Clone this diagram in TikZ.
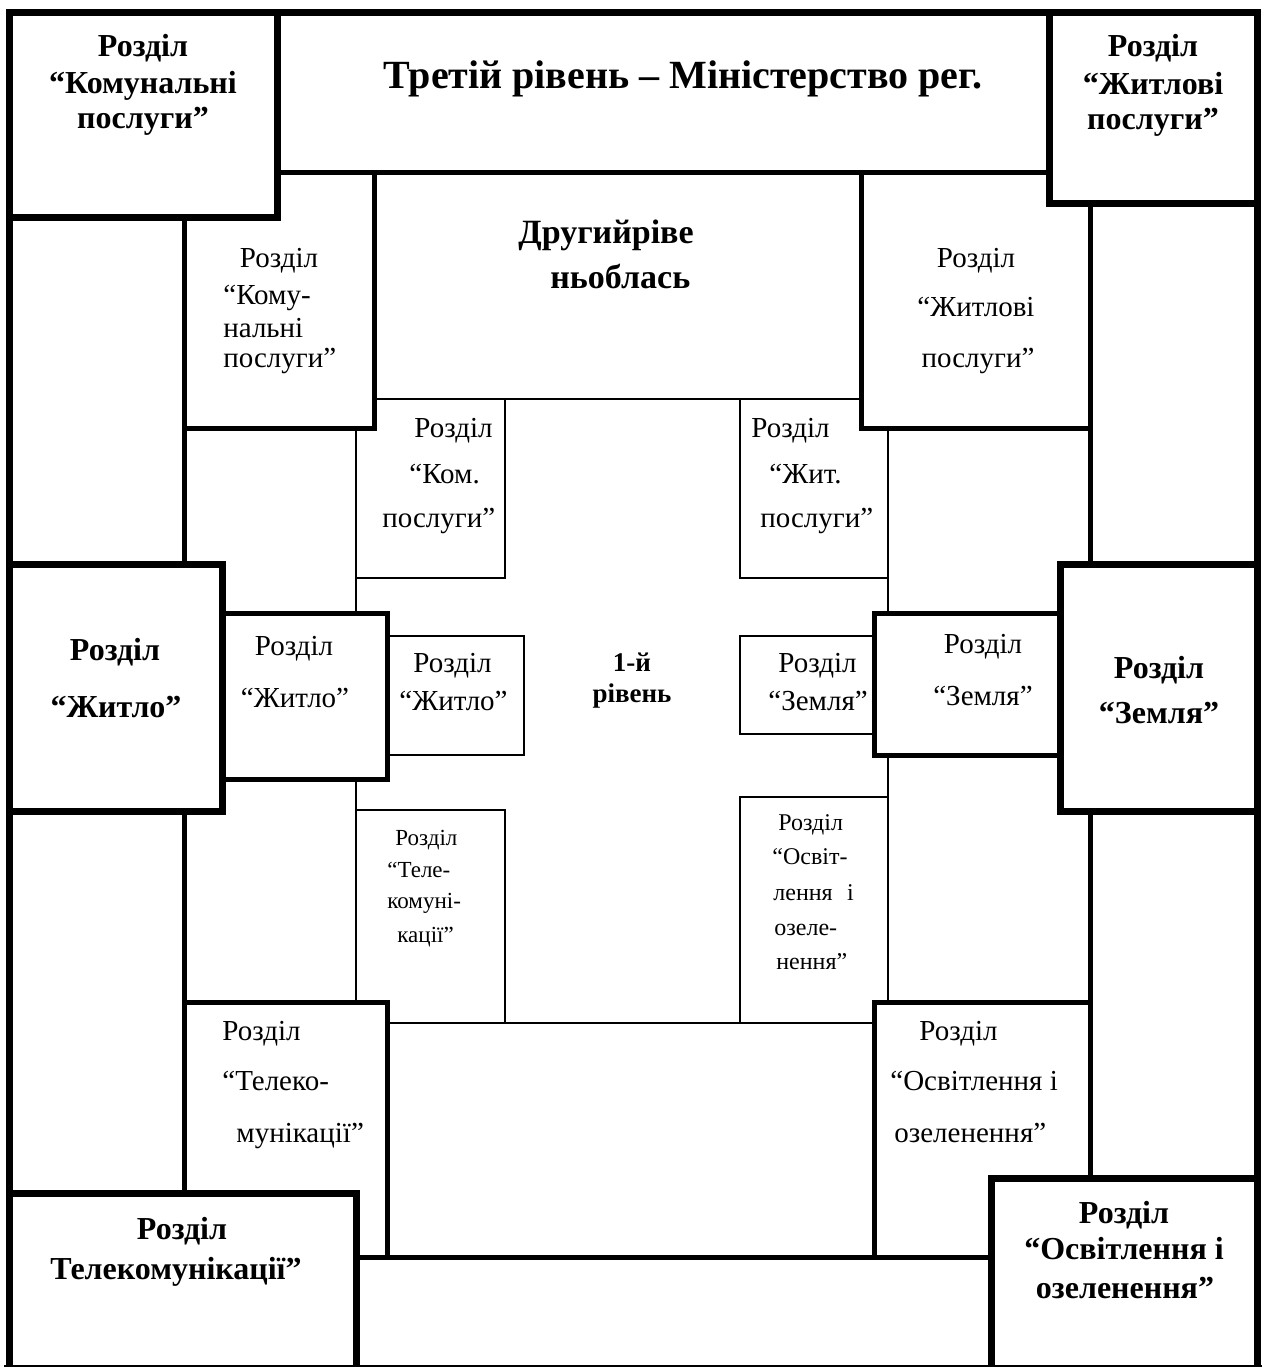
\documentclass[tikz,border=0pt]{standalone}
\usepackage{fontspec}
\setmainfont{Liberation Serif}
\tikzset{
  lthree/.style={line width=3.5pt, draw=black},
  ltwo/.style={line width=2.5pt, draw=black},
  lone/.style={line width=0.75pt, draw=black},
  ctr/.style={inner sep=0pt, anchor=base},
  lft/.style={inner sep=0pt, anchor=base west},
  fB/.style={font=\fontsize{16}{18}\selectfont\bfseries},
  fN/.style={font=\fontsize{14.5}{17}\selectfont},
  fS/.style={font=\fontsize{11.5}{13}\selectfont},
  fSS/.style={font=\fontsize{12}{14}\selectfont},
  fT/.style={font=\fontsize{20}{24}\selectfont\bfseries},
  fD/.style={font=\fontsize{17}{20}\selectfont\bfseries},
  fC/.style={font=\fontsize{13.5}{16}\selectfont\bfseries},
}
\begin{document}
\begin{tikzpicture}[x=0.5pt,y=-0.5pt]
\useasboundingbox (0,0) rectangle (1265,1367);
% ---------- level 1 (thin) ----------
\draw[lone] (356,399) rectangle (888,1023);
\draw[lone] (356,399) rectangle (505,578);
\draw[lone] (740,399) rectangle (888,578);
\draw[lone] (387,636) rectangle (524,755);
\draw[lone] (740,636) rectangle (874,734);
\draw[lone] (356,810) rectangle (505,1023);
\draw[lone] (740,797) rectangle (888,1023);
% ---------- level 2 (medium) ----------
\draw[ltwo] (184,172) rectangle (1090,1257);
\filldraw[ltwo, fill=white] (184,172) rectangle (374,428);
\filldraw[ltwo, fill=white] (861,172) rectangle (1090,428);
\filldraw[ltwo, fill=white] (222,613) rectangle (387,779);
\filldraw[ltwo, fill=white] (874,613) rectangle (1060,755);
\filldraw[ltwo, fill=white] (184,1002) rectangle (387,1257);
\filldraw[ltwo, fill=white] (874,1002) rectangle (1090,1257);
% ---------- level 3 (thick) ----------
\filldraw[ltwo, fill=white] (277,12) rectangle (1049,172);
\filldraw[lthree, fill=white] (9,12) rectangle (277,217);
\filldraw[lthree, fill=white] (1049,12) rectangle (1257,203);
\filldraw[lthree, fill=white] (9,564) rectangle (222,811);
\filldraw[lthree, fill=white] (1060,564) rectangle (1257,811);
\fill[white] (9,1193) rectangle (356,1366);
\draw[lthree] (9,1366) -- (9,1193) -- (356,1193) -- (356,1366);
\fill[white] (991,1178) rectangle (1257,1366);
\draw[lthree] (991,1366) -- (991,1178) -- (1257,1178) -- (1257,1366);
\draw[lthree] (9,1366) -- (9,12) -- (1257,12) -- (1257,1366);
\draw[line width=0.6pt] (4,1366) -- (1262,1366);
% ---------- texts, level 3 ----------
\node[ctr,fT] (title) at (683,88) {Третій рівень – Міністерство рег.};
\node[ctr,fB] (tlA) at (143,56) {Розділ};
\node[ctr,fB] (tlB) at (143,93) {“Комунальні};
\node[ctr,fB] (tlC) at (143,128) {послуги”};
\node[ctr,fB] (trA) at (1153,56) {Розділ};
\node[ctr,fB] (trB) at (1153,94) {“Житлові};
\node[ctr,fB] (trC) at (1153,129) {послуги”};
\node[ctr,fB] (lA) at (115,660) {Розділ};
\node[ctr,fB] (lB) at (116,717) {“Житло”};
\node[ctr,fB] (rA) at (1159,678) {Розділ};
\node[ctr,fB] (rB) at (1159,723) {“Земля”};
\node[ctr,fB] (blA) at (182,1239) {Розділ};
\node[ctr,fB] (blB) at (176,1279) {Телекомунікації”};
\node[ctr,fB] (brA) at (1124,1223) {Розділ};
\node[ctr,fB] (brB) at (1124,1259) {“Освітлення і};
\node[ctr,fB] (brC) at (1125,1298) {озеленення”};
% ---------- texts, level 2 ----------
\node[lft,fD] (dA) at (518,243) {Другийріве};
\node[lft,fD] (dB) at (550,288) {ньоблась};
\node[ctr,fN] (mtlA) at (279,267) {Розділ};
\node[lft,fN] (mtlB) at (223,304) {“Кому-};
\node[lft,fN] (mtlC) at (223,337) {нальні};
\node[lft,fN] (mtlD) at (223,367) {послуги”};
\node[ctr,fN] (mtrA) at (976,267) {Розділ};
\node[ctr,fN] (mtrB) at (976,316) {“Житлові};
\node[ctr,fN] (mtrC) at (978,367) {послуги”};
\node[ctr,fN] (mlA) at (294,655) {Розділ};
\node[ctr,fN] (mlB) at (295,707) {“Житло”};
\node[ctr,fN] (mrA) at (983,653) {Розділ};
\node[ctr,fN] (mrB) at (983,705) {“Земля”};
\node[lft,fN] (mblA) at (222,1040) {Розділ};
\node[lft,fN] (mblB) at (222,1090) {“Телеко-};
\node[lft,fN] (mblC) at (236,1142) {мунікації”};
\node[lft,fN] (mbrA) at (919,1040) {Розділ};
\node[lft,fN] (mbrB) at (890,1090) {“Освітлення і};
\node[lft,fN] (mbrC) at (894,1142) {озеленення”};
% ---------- texts, level 1 ----------
\node[ctr,fC] (cA) at (632,671) {1-й};
\node[ctr,fC] (cB) at (632,702) {рівень};
\node[lft,fN] (itlA) at (414,437) {Розділ};
\node[lft,fN] (itlB) at (409,483) {“Ком.};
\node[lft,fN] (itlC) at (382,527) {послуги”};
\node[lft,fN] (itrA) at (751,437) {Розділ};
\node[lft,fN] (itrB) at (769,483) {“Жит.};
\node[lft,fN] (itrC) at (760,527) {послуги”};
\node[lft,fN] (ilA) at (413,672) {Розділ};
\node[lft,fN] (ilB) at (399,710) {“Житло”};
\node[lft,fN] (irA) at (778,672) {Розділ};
\node[lft,fN] (irB) at (768,710) {“Земля”};
\node[lft,fS] (iblA) at (395,845) {Розділ};
\node[lft,fS] (iblB) at (387,877) {“Теле-};
\node[lft,fS] (iblC) at (387,908) {комуні-};
\node[lft,fS] (iblD) at (397,942) {кації”};
\node[lft,fSS] (ibrA) at (778,830) {Розділ};
\node[lft,fSS] (ibrB) at (772,864) {“Освіт-};
\node[lft,fSS] (ibrC) at (773,900) {лення\hspace{0.6em}і};
\node[lft,fSS] (ibrD) at (774,935) {озеле-};
\node[lft,fSS] (ibrE) at (776,969) {нення”};
\end{tikzpicture}
\end{document}
